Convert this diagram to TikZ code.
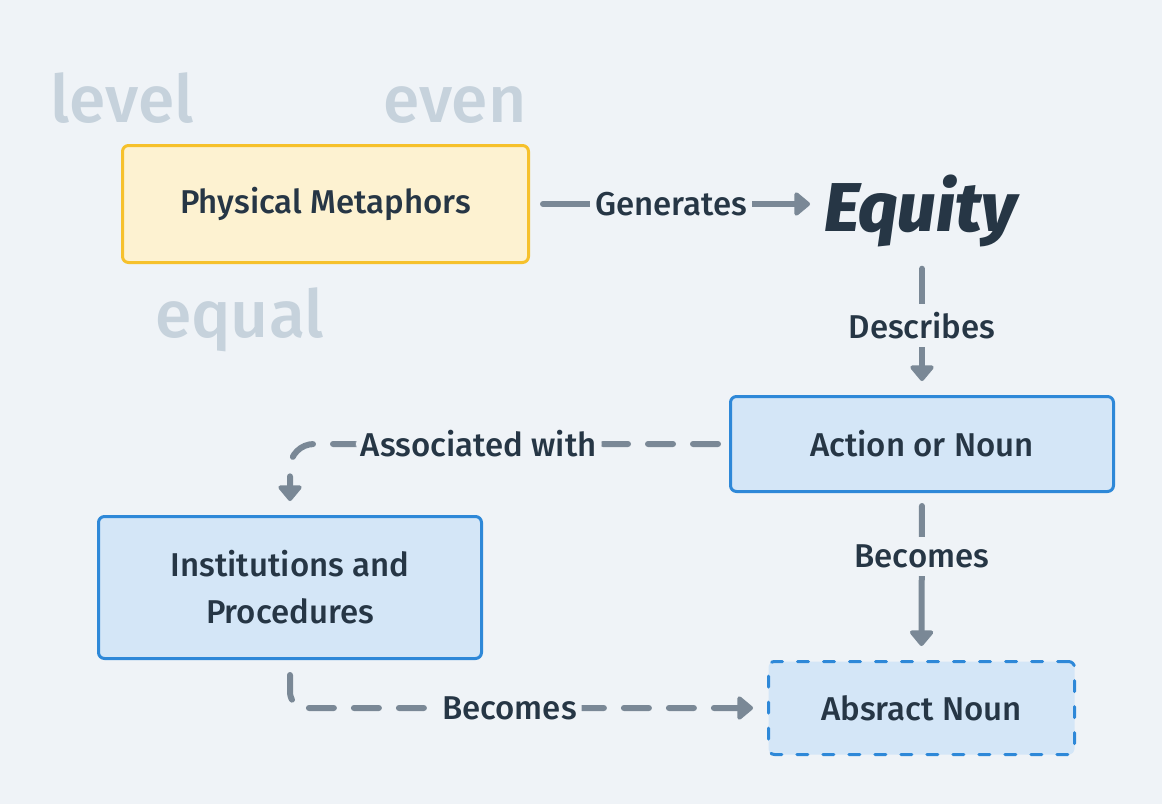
\documentclass[tikz,border=0pt]{standalone}
\usepackage{fontspec}
\setmainfont{Fira Sans}[UprightFont=* Medium, BoldItalicFont=* ExtraBold Italic]
\usetikzlibrary{arrows.meta}

\definecolor{bgGray}{HTML}{EFF3F7}
\definecolor{textDark}{HTML}{263645}
\definecolor{edgeGray}{HTML}{7A8896}
\definecolor{ghostGray}{HTML}{C6D2DC}
\definecolor{metaFill}{HTML}{FDF2D1}
\definecolor{metaLine}{HTML}{F6C12C}
\definecolor{nounFill}{HTML}{D4E6F7}
\definecolor{nounLine}{HTML}{2E88D8}

\tikzset{
  box/.style={draw, line width=3pt, rounded corners=6pt, align=center,
    text=textDark, inner sep=0pt, font=\fontsize{33}{47}\selectfont},
  metabox/.style={box, fill=metaFill, draw=metaLine},
  nounbox/.style={box, fill=nounFill, draw=nounLine},
  link/.style={draw=edgeGray, line width=6pt, line cap=round,
    -{Triangle[length=17pt,width=27pt,round]},
    shorten <=13pt, shorten >=14pt},
  dashlink/.style={link, dash pattern=on 25pt off 20pt},
  linklabel/.style={text=textDark, fill=bgGray, inner xsep=5pt, inner ysep=8pt,
    font=\fontsize{33}{40}\selectfont},
  ghost/.style={text=ghostGray, inner sep=0pt, font=\fontsize{66}{70}\selectfont}
}

\begin{document}
\begin{tikzpicture}[x=1pt,y=-1pt]
    % Hintergrund
    \fill[bgGray] (0,0) rectangle (1162,804);
    \useasboundingbox (0,0) rectangle (1162,804);

    % Woerter im Hintergrund
    \node[ghost, anchor=base west] (level) at (50,122) {level};
    \node[ghost, anchor=base west] (even) at (383,122) {even};
    \node[ghost, anchor=base west] (equal) at (155,337) {equal};

    % Knoten
    \node[metabox, minimum width=406pt, minimum height=117pt] (metaphors) at (325.5,204) {Physical Metaphors};
    \node[text=textDark, inner sep=0pt, anchor=base west,
      font=\fontsize{69}{72}\selectfont\bfseries\itshape] (equity) at (824,231) {Equity};
    \node[nounbox, minimum width=383pt, minimum height=95pt] (action) at (922,444) {Action or Noun};
    \node[nounbox, minimum width=383pt, minimum height=142pt] (institutions) at (290,587.5) {Institutions and\\Procedures};
    \node[nounbox, dash pattern=on 11pt off 15pt, line cap=round,
      minimum width=306pt, minimum height=93pt] (abstract) at (921.5,708) {Absract Noun};

    % Verbindungen
    \draw[link] (metaphors.east) -- node[linklabel, pos=0.48] {Generates} (metaphors.east -| equity.west);
    \draw[link, shorten <=22pt] (equity.south -| action.north) -- node[linklabel, pos=0.53] {Describes} (action.north);
    \draw[link] (action.south) -- node[linklabel, pos=0.38] {Becomes} (abstract.north);
    \draw[dashlink, rounded corners=24pt, shorten <=11pt]
      (action.west) -| node[linklabel, pos=0.285] {Associated with} (institutions.north);
    \draw[dashlink, rounded corners=16pt, shorten <=15pt]
      (institutions.south) |- node[linklabel, pos=0.73] {Becomes} (abstract.west);
\end{tikzpicture}
\end{document}
